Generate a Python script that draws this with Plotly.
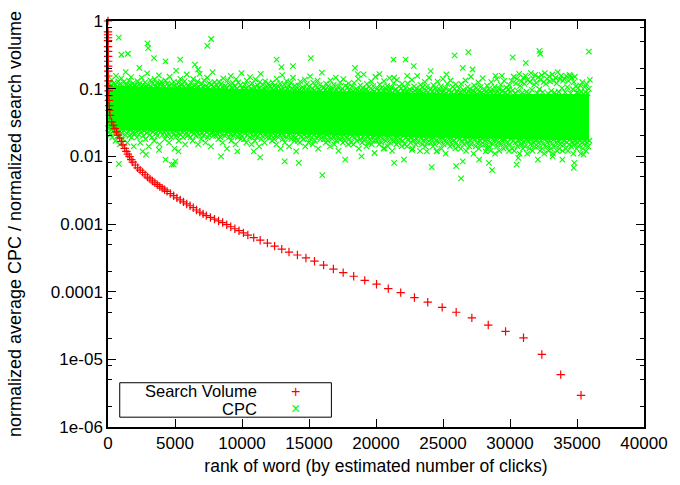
import numpy as np
import plotly.graph_objects as go

# ---------------- data ----------------
# Search volume (normalized), by rank
search_rank = [1, 2, 3, 4, 5, 7, 9, 11, 14, 17, 21, 26, 32, 39, 47, 57, 70, 85, 105, 146,
               271, 388, 512, 636, 753, 878, 1002, 1119, 1243, 1368, 1485, 1609, 1733, 1850,
               2033, 2216, 2399, 2582, 2764, 2947, 3130, 3313, 3496, 3678, 3861, 4044, 4227,
               4410, 4651, 4900, 5141, 5390, 5631, 5872, 6121, 6362, 6604, 6852, 7094, 7335,
               7642, 7949, 8249, 8556, 8863, 9163, 9470, 9777, 10107, 10436, 10874, 11357,
               11898, 12432, 12966, 13507, 14136, 14772, 15409, 16089, 16820, 17551, 18334,
               19160, 20038, 20915, 21844, 22868, 23862, 24938, 25983, 27154, 28375, 29669,
               31008, 32375, 33786, 35300]
search_vol = [1.0, 0.692, 0.626, 0.566, 0.512, 0.419, 0.355, 0.30, 0.254, 0.215, 0.182, 0.154,
              0.130, 0.110, 0.093, 0.079, 0.067, 0.056, 0.048, 0.0403,
              0.0322, 0.0288, 0.02565, 0.02305, 0.02064, 0.01866, 0.01661, 0.01476, 0.01313,
              0.0118, 0.01075, 0.00989, 0.00894, 0.00823, 0.00744, 0.00677, 0.00625, 0.00579,
              0.00534, 0.00494, 0.00463, 0.00433, 0.00406, 0.00381, 0.00359, 0.00339, 0.0032,
              0.00304, 0.00282, 0.00262, 0.00243, 0.00227, 0.00212, 0.00198, 0.00186, 0.00174,
              0.00161, 0.0015, 0.00141, 0.00133, 0.00125, 0.00118, 0.00111, 0.00105, 0.000976,
              0.00091, 0.000851, 0.000796, 0.00074, 0.000687, 0.00063, 0.000576, 0.000521,
              0.000471, 0.000426, 0.000385, 0.000348, 0.000315, 0.000282, 0.000247, 0.000216,
              0.000191, 0.000169, 0.000147, 0.000129, 0.000111, 9.67e-05, 8.18e-05, 6.99e-05,
              5.86e-05, 4.96e-05, 4.1e-05, 3.21e-05, 2.59e-05, 2.08e-05, 1.18e-05, 5.94e-06,
              2.94e-06]

# envelope of the solid (fully overplotted) CPC core
cpc_core_rank = [0, 1500, 3000, 6000, 9000, 12000, 15000, 18000, 21000, 24000, 27000, 30000,
                 33000, 35900]
cpc_core_upper = [0.11, 0.108, 0.105, 0.101, 0.098, 0.095, 0.093, 0.091, 0.089, 0.088, 0.086,
                  0.083, 0.084, 0.083]
cpc_core_lower = [0.025, 0.0245, 0.024, 0.0232, 0.0225, 0.0218, 0.021, 0.0203, 0.0197, 0.019,
                  0.0185, 0.018, 0.0176, 0.017]

# individually visible CPC points along the upper edge of the band (every 80 ranks from 40)
cpc_up_start, cpc_up_step = 40, 80
cpc_up_vals = [
 .101,.118,.109,.135,.104,.122,.112,.155,.107,.128,.115,.099,.142,.11,.125,.103,.175,.117,.108,.131,.113,.148,.105,.121,.111,
 .112,.104,.129,.099,.118,.107,.146,.115,.102,.124,.109,.168,.113,.101,.133,.106,.119,.098,.138,.11,.122,.105,.157,.116,.127,
 .098,.114,.106,.132,.101,.12,.109,.15,.103,.117,.097,.126,.111,.185,.104,.123,.108,.14,.1,.115,.107,.129,.099,.162,.112,
 .107,.099,.122,.104,.139,.096,.113,.102,.128,.108,.165,.1,.118,.105,.133,.097,.11,.145,.103,.121,.098,.116,.175,.106,.125,
 .095,.112,.103,.127,.098,.118,.106,.142,.097,.11,.101,.133,.094,.115,.155,.104,.121,.096,.108,.138,.1,.124,.093,.113,.17,
 .101,.094,.116,.099,.131,.096,.109,.148,.1,.12,.095,.105,.137,.093,.112,.102,.125,.165,.097,.114,.099,.128,.094,.107,.119,
 .092,.108,.099,.124,.095,.113,.103,.14,.093,.106,.119,.097,.158,.1,.115,.094,.129,.098,.11,.091,.122,.102,.145,.096,.111,
 .097,.09,.112,.095,.127,.092,.105,.099,.136,.093,.117,.096,.108,.152,.091,.101,.123,.094,.11,.089,.131,.098,.114,.093,.172,
 .088,.104,.095,.119,.09,.109,.097,.133,.091,.102,.115,.093,.146,.096,.107,.089,.124,.094,.1,.138,.092,.111,.087,.105,.12,
 .093,.087,.107,.091,.122,.088,.1,.095,.14,.09,.112,.094,.103,.163,.089,.098,.118,.092,.106,.086,.128,.096,.109,.091,.15,
 .086,.101,.092,.116,.088,.105,.094,.129,.089,.099,.11,.091,.143,.093,.104,.087,.121,.095,.098,.135,.09,.108,.085,.102,.118,
 .091,.085,.103,.089,.12,.086,.098,.093,.135,.088,.108,.092,.101,.155,.087,.096,.114,.09,.104,.084,.126,.094,.107,.089,.145,
 .084,.099,.09,.113,.086,.103,.092,.127,.087,.097,.108,.089,.14,.091,.102,.085,.118,.093,.096,.132,.088,.106,.083,.1,.116,
 .089,.083,.101,.087,.118,.084,.096,.091,.132,.086,.106,.09,.099,.15,.085,.094,.112,.088,.102,.082,.124,.092,.105,.087,.143,
 .083,.097,.088,.111,.085,.1,.09,.125,.086,.095,.106,.087,.138,.089,.1,.084,.115,.091,.094,.13,.087,.104,.082,.098,.113,
 .088,.13,.095,.15,.085,.12,.14,.092,.165,.11,.128,.087,.145,.118,.155,.09,.135,.084,.125,.17,.096,.142,.115,.16,.122,
 .086,.148,.098,.135,.158,.089,.125,.17,.118,.14,.085,.152,.128,.093,.162,.132,.087,.145,.12,.175,.09,.138,.155,.102,.13,
 .14,.088,.155,.105,.13,.16,.085,.145,.098,.125,.15,.108,.087,.102,.084,.112,.09,.125,.083,.105,.089,.118,.085,.099,.135,
]

# individually visible CPC points along the lower edge of the band (every 80 ranks from 0)
cpc_lo_start, cpc_lo_step = 0, 80
cpc_lo_vals = [
 .026,.023,.021,.025,.019,.024,.022,.017,.026,.02,.023,.015,.025,.022,.018,.024,.021,.026,.016,.023,.02,.025,.019,.022,.014,
 .022,.025,.019,.024,.021,.016,.023,.026,.02,.024,.018,.022,.025,.014,.021,.024,.019,.023,.017,.025,.022,.02,.024,.015,.023,
 .025,.021,.023,.018,.024,.02,.022,.016,.025,.019,.023,.021,.013,.024,.02,.022,.017,.025,.021,.023,.019,.024,.015,.022,.02,
 .021,.024,.019,.023,.017,.022,.025,.02,.023,.015,.021,.024,.018,.022,.02,.024,.016,.023,.019,.021,.024,.014,.022,.02,.023,
 .024,.02,.022,.018,.023,.019,.021,.016,.024,.02,.022,.013,.023,.019,.021,.017,.024,.02,.022,.015,.023,.019,.021,.024,.018,
 .02,.023,.018,.022,.016,.021,.024,.019,.022,.015,.02,.023,.017,.021,.019,.023,.014,.022,.018,.02,.023,.016,.021,.019,.022,
 .023,.019,.021,.017,.022,.018,.02,.015,.023,.019,.021,.013,.022,.018,.02,.016,.023,.019,.021,.014,.022,.018,.02,.023,.017,
 .019,.022,.017,.021,.016,.02,.023,.018,.021,.014,.019,.022,.016,.02,.018,.022,.015,.021,.017,.019,.022,.013,.02,.018,.021,
 .022,.018,.02,.016,.021,.017,.019,.014,.022,.018,.02,.015,.021,.017,.019,.012,.022,.018,.02,.016,.021,.017,.019,.022,.015,
 .018,.021,.016,.02,.015,.019,.022,.017,.02,.013,.018,.021,.016,.019,.017,.021,.014,.02,.016,.018,.021,.015,.019,.017,.02,
 .021,.017,.019,.015,.02,.016,.018,.013,.021,.017,.019,.014,.02,.016,.018,.012,.021,.017,.019,.015,.02,.016,.018,.021,.014,
 .017,.02,.015,.019,.014,.018,.021,.016,.019,.013,.017,.02,.015,.018,.016,.02,.012,.019,.015,.017,.02,.014,.018,.016,.019,
 .02,.016,.018,.014,.019,.015,.017,.012,.02,.016,.018,.013,.019,.015,.017,.011,.02,.016,.018,.014,.019,.015,.017,.02,.013,
 .016,.019,.014,.018,.013,.017,.02,.015,.018,.012,.016,.019,.014,.017,.015,.019,.011,.018,.014,.016,.019,.013,.017,.015,.018,
 .019,.015,.017,.013,.018,.014,.016,.012,.019,.015,.017,.011,.018,.014,.016,.012,.019,.015,.017,.013,.018,.014,.016,.019,.012,
 .015,.018,.013,.017,.012,.016,.019,.014,.017,.011,.015,.018,.013,.016,.014,.018,.011,.017,.013,.015,.018,.012,.016,.014,.017,
 .018,.014,.016,.012,.017,.013,.015,.011,.018,.014,.016,.012,.017,.013,.015,.011,.018,.014,.016,.012,.017,.013,.015,.018,.012,
 .015,.017,.013,.016,.012,.015,.018,.014,.016,.011,.015,.017,.013,.016,.014,.017,.011,.016,.013,.015,.017,.012,.016,.014,.017,
]

# isolated CPC outliers (rank, value)
cpc_out_rank = [804, 2947, 2998, 7701, 7408, 15138, 12578, 13800, 12944, 18429, 18648, 20257,
                1002, 1485, 3437, 5390, 4293, 2340, 6487, 6728, 21303, 22209, 22817, 25866,
                26890, 24082, 30203, 31175, 32199, 32259, 35885, 34517, 28908, 29398, 26473,
                27204, 25252, 22327, 21354, 35007,
                810, 15994, 4900, 8432, 11357, 13185, 14238, 2830, 3803, 2582, 5265, 9653,
                17697, 18919, 19891, 4293, 5024, 10874, 14041, 4753, 21354, 22085, 24155,
                26349, 25983, 26473, 28667, 30495, 32082, 34759, 34800, 33910, 35490, 23789,
                24520, 27694, 28426, 20623, 22692, 28177, 30619, 33179]
cpc_out_val = [0.566, 0.468, 0.396, 0.542, 0.429, 0.283, 0.269, 0.215, 0.208, 0.203, 0.164, 0.164,
               0.317, 0.328, 0.283, 0.269, 0.254, 0.203, 0.227, 0.192, 0.269, 0.269, 0.215, 0.310,
               0.346, 0.182, 0.290, 0.240, 0.363, 0.328, 0.354, 0.154, 0.154, 0.154, 0.203,
               0.192, 0.163, 0.154, 0.145, 0.0879,
               0.00774, 0.00529, 0.00756, 0.00999, 0.00966, 0.00845, 0.00801, 0.01056, 0.0125,
               0.0118, 0.0118, 0.0118, 0.00894, 0.00999, 0.0112, 0.00894, 0.00845, 0.0118,
               0.0118, 0.00756, 0.00801, 0.00894, 0.00691, 0.00474, 0.00714, 0.00845, 0.00625,
               0.00756, 0.00894, 0.00677, 0.00801, 0.00894, 0.01056, 0.0118, 0.0118, 0.00894,
               0.00801, 0.0132, 0.0125, 0.0118, 0.00946, 0.00999]

x_ticks = [0, 5000, 10000, 15000, 20000, 25000, 30000, 35000, 40000]
y_ticks = [1e-6, 1e-5, 1e-4, 1e-3, 1e-2, 1e-1, 1]
y_ticklabels = ["1e-06", "1e-05", "0.0001", "0.001", "0.01", "0.1", "1"]
y_minor = [m * 10.0 ** e for e in range(-6, 0) for m in (2, 5, 8)]

# --------------- figure ----------------
GREEN = "#00ff00"
RED = "#ff0000"
cpc_rank = (list(cpc_up_start + cpc_up_step * np.arange(len(cpc_up_vals)))
            + list(cpc_lo_start + cpc_lo_step * np.arange(len(cpc_lo_vals)))
            + cpc_out_rank)
cpc_all = list(cpc_up_vals) + list(cpc_lo_vals) + cpc_out_val

FONT = "Liberation Sans, Arial, sans-serif"
fig = go.Figure()
fig.add_trace(go.Scatter(
    x=cpc_core_rank + cpc_core_rank[::-1], y=cpc_core_upper + cpc_core_lower[::-1],
    mode="lines", fill="toself", fillcolor=GREEN, line=dict(width=0, color=GREEN),
    hoverinfo="skip", showlegend=False))
fig.add_trace(go.Scatter(
    x=cpc_rank, y=cpc_all, mode="markers", name="CPC",
    marker=dict(symbol="x-thin-open", size=5.5, color=GREEN,
                line=dict(color=GREEN, width=1.1)),
    cliponaxis=False))
fig.add_trace(go.Scatter(
    x=search_rank, y=search_vol, mode="markers", name="Search Volume",
    marker=dict(symbol="cross-thin-open", size=6, color=RED,
                line=dict(color=RED, width=1.2)),
    cliponaxis=False))

axis_common = dict(showline=True, linecolor="black", linewidth=1.5, mirror="allticks",
                   ticks="inside", ticklen=8, tickwidth=1, tickcolor="black",
                   showgrid=False, zeroline=False,
                   tickfont=dict(family=FONT, size=17, color="black"))

fig.update_xaxes(range=[0, 40000], tickmode="array", tickvals=x_ticks,
                 ticktext=[str(v) for v in x_ticks],
                 title=dict(text="rank of word (by estimated number of clicks)",
                            font=dict(family=FONT, size=17.5, color="black"), standoff=8),
                 **axis_common)
fig.update_yaxes(type="log", range=[-6, 0], tickmode="array", tickvals=y_ticks,
                 ticktext=y_ticklabels,
                 minor=dict(tickmode="array", tickvals=y_minor, ticks="inside", ticklen=4,
                            tickcolor="black", tickwidth=1),
                 title=dict(text="normalized average CPC / normalized search volume",
                            font=dict(family=FONT, size=18, color="black"), standoff=25),
                 **axis_common)

# gnuplot-style key (text left of sample, boxed)
fig.add_shape(type="rect", xref="paper", yref="paper", x0=0.0219, x1=0.4168, y0=0.0242,
              y1=0.109, line=dict(color="black", width=1), fillcolor="white", layer="above")
for label, sym, col, yy in [("Search Volume", "+", RED, 0.0884),
                            ("CPC", "×", GREEN, 0.0448)]:
    fig.add_annotation(text=label, xref="paper", yref="paper", x=0.2815, y=yy,
                       xanchor="right", yanchor="middle", showarrow=False,
                       font=dict(family=FONT, size=16.5, color="black"))
    fig.add_annotation(text=sym, xref="paper", yref="paper", x=0.349, y=yy,
                       xanchor="center", yanchor="middle", showarrow=False,
                       font=dict(family=FONT, size=16, color=col))

fig.update_layout(width=680, height=485, margin=dict(l=108, r=25, t=14, b=58),
                  paper_bgcolor="white", plot_bgcolor="white", showlegend=False,
                  font=dict(family=FONT, size=17, color="black"))
fig.write_html("out.html")
